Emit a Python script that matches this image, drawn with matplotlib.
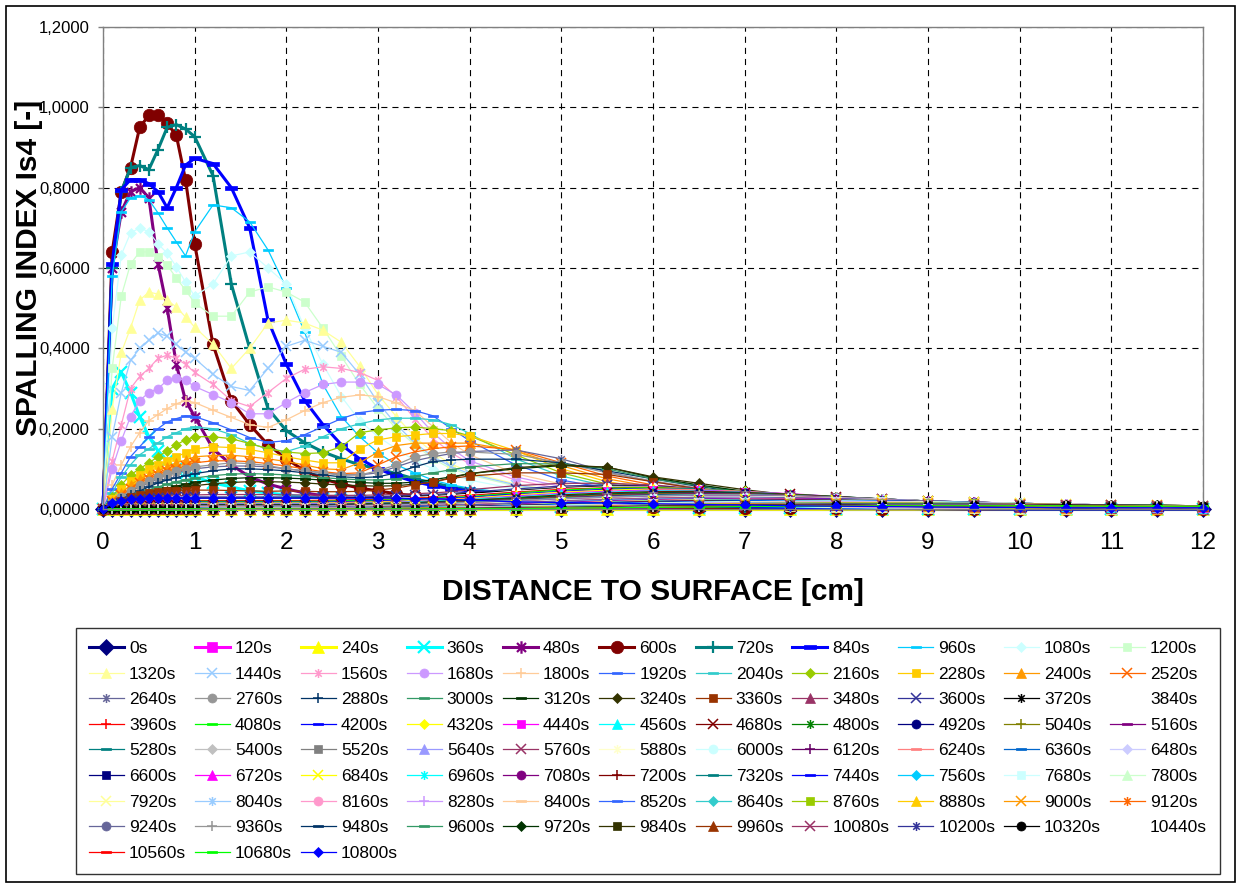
import numpy as np
import matplotlib
matplotlib.use("Agg")
import matplotlib.pyplot as plt
from matplotlib.path import Path
from matplotlib.patches import Rectangle
from matplotlib.ticker import FuncFormatter

plt.rcParams['font.family'] = ['Liberation Sans', 'DejaVu Sans']

W, H = 1237, 883

# depth grid of the curves [cm]
DEPTH_CM = [0, 0.1, 0.2, 0.3, 0.4, 0.5, 0.6, 0.7, 0.8, 0.9, 1.0,
            1.2, 1.4, 1.6, 1.8, 2.0, 2.2, 2.4, 2.6, 2.8, 3.0,
            3.2, 3.4, 3.6, 3.8, 4.0,
            4.5, 5.0, 5.5, 6.0, 6.5, 7.0, 7.5, 8.0, 8.5, 9.0,
            9.5, 10.0, 10.5, 11.0, 11.5, 12.0]

TIMES_S = list(range(0, 10801, 120))

# spalling index Is4, in thousandths, one row per time step
IS4_E3 = [
    [0,0,0,0,0,0,0,0,0,0,0, 0,0,0,0,0,0,0,0,0,0, 0,0,0,0,0, 0,0,0,0,0,0,0,0,0,0, 0,0,0,0,0,0],
    [0,2,2,1,1,1,1,0,0,0,0, 0,0,0,0,0,0,0,0,0,0, 0,0,0,0,0, 0,0,0,0,0,0,0,0,0,0, 0,0,0,0,0,0],
    [0,0,0,0,0,0,0,0,0,0,0, 0,0,0,0,0,0,0,0,0,0, 0,0,0,0,0, 0,0,0,0,0,0,0,0,0,0, 0,0,0,0,0,0],
    [0,300,340,290,230,180,145,120,100,90,80, 65,55,45,40,35,30,25,22,20,18, 15,13,12,10,10, 8,6,5,4,3,2,2,1,1,1, 0,0,0,0,0,0],
    [0,600,740,790,800,775,610,500,360,270,230, 150,110,80,62,50,40,33,28,24,20, 18,15,13,12,10, 8,6,5,4,3,2,2,1,1,1, 0,0,0,0,0,0],
    [0,640,790,850,950,980,980,960,930,820,660, 410,270,210,160,125,95,75,62,52,45, 38,33,28,25,22, 15,11,8,6,4,3,2,2,1,1, 0,0,0,0,0,0],
    [0,600,790,850,855,845,895,950,957,946,927, 830,560,400,250,195,165,142,125,110,100, 88,75,65,55,48, 33,23,16,12,8,6,4,3,2,1, 1,0,0,0,0,0],
    [0,610,795,820,820,810,790,750,800,856,873, 860,800,700,470,360,270,210,160,125,100, 82,68,58,50,45, 33,24,17,12,9,6,4,3,2,1, 1,0,0,0,0,0],
    [0,580,740,775,780,770,737,700,665,630,690, 757,750,715,645,550,440,310,230,180,140, 110,90,72,60,52, 38,27,19,13,9,7,5,3,2,2, 1,1,0,0,0,0],
    [0,450,633,687,700,690,660,637,603,565,530, 560,630,640,600,560,450,360,280,220,180, 150,120,100,85,72, 50,35,24,17,12,9,6,4,3,2, 1,1,0,0,0,0],
    [0,350,530,610,640,640,628,607,575,545,513, 480,480,540,553,540,515,450,380,310,250, 200,160,125,100,85, 57,40,28,20,14,10,7,5,3,2, 2,1,1,0,0,0],
    [0,250,390,450,520,540,535,520,503,478,453, 410,350,400,463,470,463,445,415,355,285, 230,180,140,112,92, 62,43,30,21,15,11,8,5,4,3, 2,1,1,0,0,0],
    [0,180,290,370,400,420,438,430,410,390,375, 335,305,295,350,405,420,405,390,335,265, 210,165,130,105,88, 60,42,30,21,15,11,8,6,4,3, 2,1,1,0,0,0],
    [0,120,210,300,330,350,375,383,375,360,340, 310,270,255,290,325,348,354,350,340,320, 280,225,175,140,112, 72,50,36,26,18,13,9,6,4,3, 2,2,1,1,0,0],
    [0,100,170,230,270,290,300,320,326,320,305, 285,265,237,237,265,290,310,316,316,310, 284,240,190,150,120, 80,56,40,29,21,15,11,8,5,4, 3,2,1,1,0,0],
    [0,60,110,155,190,220,235,250,262,270,265, 246,228,210,203,222,245,265,278,284,280, 264,245,205,165,135, 88,62,45,34,25,18,13,9,6,4, 3,2,1,1,1,0],
    [0,50,90,130,155,180,200,217,225,232,230, 215,197,178,166,170,185,205,225,240,246, 248,245,232,200,170, 110,72,52,40,30,22,16,11,8,5, 4,3,2,1,1,0],
    [0,40,80,110,135,150,165,180,190,200,204, 200,185,163,150,143,157,180,200,212,222, 226,226,222,210,188, 125,82,57,42,32,24,17,12,8,6, 4,3,2,1,1,0],
    [0,30,60,85,100,115,130,145,160,172,180, 180,175,163,150,142,138,140,155,190,197, 202,204,200,195,182, 135,90,62,46,34,25,18,13,9,6, 4,3,2,1,1,0],
    [0,25,50,70,85,100,110,120,130,140,150, 155,153,148,140,130,122,115,115,150,172, 180,184,188,188,182, 145,100,68,50,37,27,19,13,9,7, 5,3,2,1,1,0],
    [0,20,40,60,75,85,95,105,115,122,130, 133,134,130,125,118,110,100,98,115,142, 158,164,164,164,164, 145,108,75,55,41,30,21,15,10,7, 5,4,3,2,1,1],
    [0,20,35,50,65,75,85,95,100,108,115, 120,120,118,113,107,100,93,88,90,110, 130,142,150,155,157, 148,115,82,60,45,33,23,16,11,8, 6,4,3,2,1,1],
    [0,15,30,45,55,65,75,85,90,95,100, 105,107,107,105,100,95,90,85,85,90, 105,120,130,138,143, 147,125,92,68,50,36,26,18,12,9, 6,4,3,2,1,1],
    [0,15,30,45,60,70,80,88,95,100,105, 110,115,113,108,100,95,90,85,85,95, 110,130,138,142,142, 136,115,90,70,52,37,27,19,13,9, 7,5,3,2,1,1],
    [0,10,25,35,45,55,65,72,78,83,88, 95,100,100,98,95,90,85,80,78,80, 90,105,118,122,124, 124,115,95,75,56,41,29,20,14,10, 7,5,3,2,1,1],
    [0,10,20,30,40,48,55,62,68,73,77, 83,87,88,87,85,82,78,75,73,72, 75,82,90,98,105, 113,112,100,75,58,43,31,22,15,11, 8,6,4,3,2,1],
    [0,8,17,25,33,40,46,52,57,62,66, 72,76,78,78,77,75,72,69,66,64, 64,67,73,80,88, 100,108,104,78,60,44,32,23,16,12, 9,6,4,3,2,1],
    [0,7,15,22,29,35,40,45,50,54,58, 63,66,68,68,67,65,62,60,58,57, 58,62,67,78,88, 103,110,104,80,64,48,35,25,17,12, 9,6,4,3,2,1],
    [0,10,20,30,35,40,42,44,45,46,47, 47,46,45,44,45,44,43,43,44,47, 52,60,68,76,82, 90,90,86,68,50,38,28,20,14,10, 7,5,4,3,2,1],
    [0,8,15,20,25,28,30,32,33,34,35, 36,36,36,36,35,35,34,34,34,35, 36,38,40,43,48, 58,64,64,60,50,40,30,22,16,11, 8,6,4,3,2,1],
    [0,8,14,19,22,25,27,28,29,30,30, 30,30,30,30,30,30,30,30,30,31, 32,34,36,39,42, 50,57,60,57,50,41,32,24,17,12, 9,6,4,3,2,1],
    [0,7,13,17,20,23,24,25,26,27,27, 27,27,27,27,27,27,27,27,28,28, 29,31,33,36,39, 46,53,57,56,50,42,33,25,18,13, 9,7,5,3,2,1],
    [0,6,12,15,18,20,22,23,24,24,24, 24,24,24,24,24,24,24,25,25,26, 27,29,31,33,36, 44,51,55,55,50,42,34,26,19,14, 10,7,5,3,2,1],
    [0,6,11,14,16,18,19,20,21,21,21, 21,21,21,21,21,21,22,22,23,24, 25,27,29,31,34, 42,49,53,54,50,43,35,27,20,15, 11,8,5,4,2,1],
    [0,5,9,12,14,16,17,18,18,19,19, 19,19,19,19,19,19,19,20,21,22, 23,25,27,29,31, 40,47,52,53,50,44,36,28,21,16, 12,8,6,4,3,2],
    [0,5,8,11,13,14,15,16,16,17,17, 17,17,17,17,17,17,17,18,19,20, 21,23,25,27,29, 37,44,49,51,49,44,37,29,22,17, 12,9,6,4,3,2],
    [0,4,7,10,11,12,13,14,14,15,15, 15,15,15,15,15,15,15,16,17,18, 19,21,23,25,27, 35,42,47,50,48,44,37,30,23,17, 13,9,7,5,3,2],
    [0,4,7,9,10,11,12,12,13,13,13, 13,13,13,13,13,13,14,14,15,16, 17,19,21,23,25, 32,39,44,47,47,43,38,31,24,18, 14,10,7,5,3,2],
    [0,3,6,8,9,10,11,11,11,12,12, 12,12,12,12,12,12,12,13,14,15, 16,18,20,22,24, 30,37,42,45,45,42,37,31,25,19, 14,10,7,5,4,2],
    [0,3,5,7,8,9,10,10,10,11,11, 11,11,11,11,11,11,11,12,13,14, 15,16,18,20,22, 28,35,40,43,44,41,37,31,25,19, 15,11,8,5,4,2],
    [0,3,5,6,7,8,9,9,9,10,10, 10,10,10,10,10,10,10,11,12,13, 14,15,17,19,21, 27,33,38,41,42,40,36,31,25,20, 15,11,8,6,4,3],
    [0,3,4,6,7,8,8,8,9,9,9, 9,9,9,9,9,9,10,10,11,12, 13,14,16,18,20, 25,31,36,39,40,39,35,30,25,20, 15,11,8,6,4,3],
    [0,2,4,5,6,7,7,8,8,8,8, 8,8,8,8,8,8,9,9,10,11, 12,13,15,17,19, 24,30,35,38,39,38,35,30,25,20, 16,12,9,6,4,3],
    [0,2,4,5,6,6,7,7,7,8,8, 8,8,8,8,8,8,8,9,9,10, 11,12,14,16,18, 23,28,33,36,38,37,34,30,25,20, 16,12,9,6,4,3],
    [0,2,3,4,5,6,6,6,7,7,7, 7,7,7,7,7,7,8,8,9,10, 11,12,13,15,17, 22,27,31,35,36,36,33,29,25,20, 16,12,9,7,5,3],
    [0,2,3,4,5,5,6,6,6,6,7, 7,7,7,7,7,7,7,8,8,9, 10,11,12,14,16, 21,26,30,33,35,35,33,29,25,20, 16,13,10,7,5,3],
    [0,2,3,4,4,5,5,5,6,6,6, 6,6,6,6,6,6,7,7,8,9, 9,10,12,13,15, 20,25,29,32,34,34,32,29,25,20, 16,13,10,7,5,4],
    [0,2,3,3,4,4,5,5,5,5,6, 6,6,6,6,6,6,6,7,7,8, 9,10,11,13,14, 19,24,28,31,33,33,31,28,24,20, 17,13,10,7,5,4],
    [0,1,2,3,4,4,4,5,5,5,5, 5,5,5,5,5,6,6,6,7,8, 8,9,11,12,14, 18,23,27,30,32,32,31,28,24,20, 17,13,10,8,5,4],
    [0,1,2,3,3,4,4,4,4,5,5, 5,5,5,5,5,5,6,6,7,7, 8,9,10,11,13, 17,22,26,29,31,31,30,27,24,20, 17,13,10,8,6,4],
    [0,1,2,3,3,3,4,4,4,4,4, 4,4,4,4,5,5,5,6,6,7, 7,8,9,11,12, 16,21,25,28,30,30,29,27,24,20, 17,14,11,8,6,4],
    [0,1,2,2,3,3,3,4,4,4,4, 4,4,4,4,4,5,5,5,6,6, 7,8,9,10,11, 15,20,24,27,29,29,28,26,23,20, 17,14,11,8,6,4],
    [0,1,2,2,3,3,3,3,3,4,4, 4,4,4,4,4,4,5,5,5,6, 6,7,8,9,11, 14,19,23,26,28,28,27,26,23,20, 17,14,11,9,6,5],
    [0,1,2,2,2,3,3,3,3,3,3, 3,3,3,4,4,4,4,5,5,6, 6,7,8,9,10, 13,18,22,25,27,27,27,25,23,20, 17,14,11,9,7,5],
    [0,1,1,2,2,2,3,3,3,3,3, 3,3,3,3,3,4,4,4,5,5, 6,6,7,8,9, 12,17,21,24,26,27,26,25,23,20, 17,14,12,9,7,5],
    [0,1,1,2,2,2,2,3,3,3,3, 3,3,3,3,3,3,4,4,4,5, 5,6,7,8,9, 12,16,20,23,25,26,26,25,22,20, 17,14,12,9,7,5],
    [0,1,1,2,2,2,2,2,2,3,3, 3,3,3,3,3,3,3,4,4,5, 5,6,6,7,8, 11,15,19,22,24,25,25,24,22,19, 17,14,12,10,7,5],
    [0,1,1,1,2,2,2,2,2,2,2, 2,3,3,3,3,3,3,3,4,4, 5,5,6,7,8, 10,14,18,21,23,24,24,23,22,19, 17,14,12,10,8,6],
    [0,1,1,1,2,2,2,2,2,2,2, 2,2,2,3,3,3,3,3,4,4, 4,5,6,6,7, 10,13,17,20,22,23,23,23,21,19, 17,14,12,10,8,6],
    [0,1,1,1,1,2,2,2,2,2,2, 2,2,2,2,3,3,3,3,3,4, 4,5,5,6,7, 9,12,16,19,21,22,23,22,21,19, 17,14,12,10,8,6],
    [0,1,1,1,1,1,2,2,2,2,2, 2,2,2,2,2,3,3,3,3,4, 4,4,5,5,6, 9,12,15,18,20,21,22,22,20,18, 16,14,12,10,8,6],
    [0,0,1,1,1,1,1,2,2,2,2, 2,2,2,2,2,2,3,3,3,3, 4,4,5,5,6, 8,11,14,17,19,21,21,21,20,18, 16,14,12,10,8,6],
    [0,0,1,1,1,1,1,1,2,2,2, 2,2,2,2,2,2,2,3,3,3, 3,4,4,5,5, 8,10,13,16,18,20,21,21,20,18, 16,14,12,10,8,7],
    [0,0,1,1,1,1,1,1,1,2,2, 2,2,2,2,2,2,2,2,3,3, 3,4,4,5,5, 7,10,13,15,17,19,20,20,19,18, 16,14,12,10,8,7],
    [0,0,1,1,1,1,1,1,1,1,1, 2,2,2,2,2,2,2,2,2,3, 3,3,4,4,5, 7,9,12,15,17,18,19,20,19,18, 16,14,12,10,9,7],
    [0,0,0,1,1,1,1,1,1,1,1, 1,2,2,2,2,2,2,2,2,3, 3,3,4,4,4, 6,9,11,14,16,18,19,19,18,17, 16,14,12,10,9,7],
    [0,0,0,1,1,1,1,1,1,1,1, 1,1,1,2,2,2,2,2,2,2, 3,3,3,4,4, 6,8,11,13,15,17,18,18,18,17, 15,14,12,10,9,7],
    [0,0,0,1,1,1,1,1,1,1,1, 1,1,1,1,2,2,2,2,2,2, 2,3,3,3,4, 5,8,10,13,15,16,17,18,17,16, 15,13,12,10,9,7],
    [0,0,0,0,1,1,1,1,1,1,1, 1,1,1,1,1,2,2,2,2,2, 2,3,3,3,4, 5,7,10,12,14,16,17,17,17,16, 15,13,12,10,9,8],
    [0,0,0,0,1,1,1,1,1,1,1, 1,1,1,1,1,1,2,2,2,2, 2,2,3,3,3, 5,7,9,12,14,15,16,17,16,16, 15,13,12,10,9,8],
    [0,0,0,0,0,1,1,1,1,1,1, 1,1,1,1,1,1,1,2,2,2, 2,2,3,3,3, 4,6,9,11,13,15,16,16,16,15, 14,13,12,10,9,8],
    [0,0,0,0,0,1,1,1,1,1,1, 1,1,1,1,1,1,1,1,2,2, 2,2,2,3,3, 4,6,8,11,13,14,15,16,15,15, 14,13,11,10,9,8],
    [0,0,0,0,0,0,1,1,1,1,1, 1,1,1,1,1,1,1,1,1,2, 2,2,2,3,3, 4,6,8,10,12,14,15,15,15,15, 14,13,11,10,9,8],
    [0,0,0,0,0,0,0,1,1,1,1, 1,1,1,1,1,1,1,1,1,1, 2,2,2,2,3, 4,5,7,10,12,13,14,15,15,14, 14,12,11,10,9,8],
    [0,0,0,0,0,0,0,0,1,1,1, 1,1,1,1,1,1,1,1,1,1, 1,2,2,2,2, 3,5,7,9,11,13,14,14,14,14, 13,12,11,10,9,8],
    [0,0,0,0,0,0,0,0,0,1,1, 1,1,1,1,1,1,1,1,1,1, 1,1,2,2,2, 3,5,7,9,11,12,13,14,14,14, 13,12,11,10,9,8],
    [0,0,0,0,0,0,0,0,0,0,1, 1,1,1,1,1,1,1,1,1,1, 1,1,1,2,2, 3,4,6,8,10,12,13,13,13,13, 13,12,11,10,9,8],
    [0,0,0,0,0,0,0,0,0,0,0, 1,1,1,1,1,1,1,1,1,1, 1,1,1,1,2, 3,4,6,8,10,11,12,13,13,13, 12,12,11,10,9,8],
    [0,0,0,0,0,0,0,0,0,0,0, 0,1,1,1,1,1,1,1,1,1, 1,1,1,1,2, 2,4,6,8,9,11,12,12,12,12, 12,11,11,10,9,8],
    [0,0,0,0,0,0,0,0,0,0,0, 0,0,1,1,1,1,1,1,1,1, 1,1,1,1,1, 2,4,5,7,9,10,11,12,12,12, 12,11,10,10,9,8],
    [0,0,0,0,0,0,0,0,0,0,0, 0,0,0,1,1,1,1,1,1,1, 1,1,1,1,1, 2,3,5,7,9,10,11,11,12,12, 11,11,10,9,9,8],
    [0,0,0,0,0,0,0,0,0,0,0, 0,0,0,0,1,1,1,1,1,1, 1,1,1,1,1, 2,3,5,7,8,9,10,11,11,11, 11,10,10,9,9,8],
    [0,0,0,0,0,0,0,0,0,0,0, 0,0,0,0,0,1,1,1,1,1, 1,1,1,1,1, 2,3,4,6,8,9,10,10,11,11, 11,10,10,9,8,8],
    [0,0,0,0,0,0,0,0,0,0,0, 0,0,0,0,0,0,1,1,1,1, 1,1,1,1,1, 2,3,4,6,7,9,9,10,10,10, 10,10,9,9,8,8],
    [0,0,0,0,0,0,0,0,0,0,0, 0,0,0,0,0,0,0,1,1,1, 1,1,1,1,1, 1,3,4,6,7,8,9,10,10,10, 10,10,9,9,8,8],
    [0,0,0,0,0,0,0,0,0,0,0, 0,0,0,0,0,0,0,0,1,1, 1,1,1,1,1, 1,2,4,5,7,8,9,9,10,10, 10,9,9,9,8,8],
    [0,0,0,0,0,0,0,0,0,0,0, 0,0,0,0,0,0,0,0,0,1, 1,1,1,1,1, 1,2,3,5,6,7,8,9,9,9, 9,9,9,8,8,8],
    [0,0,0,0,0,0,0,0,0,0,0, 0,0,0,0,0,0,0,0,0,0, 1,1,1,1,1, 1,2,3,5,6,7,8,8,9,9, 9,9,8,8,8,7],
    [0,0,0,0,0,0,0,0,0,0,0, 0,0,0,0,0,0,0,0,0,0, 0,1,1,1,1, 1,2,3,4,6,7,7,8,8,8, 8,8,8,8,7,7],
    [0,0,0,0,0,0,0,0,0,0,0, 0,0,0,0,0,0,0,0,0,0, 0,0,1,1,1, 1,2,3,4,5,6,7,7,8,8, 8,8,8,7,7,7],
    [0,15,20,24,26,27,27,27,27,27,27, 27,27,27,27,27,27,27,27,27,27, 27,26,25,24,22, 18,16,15,13,11,10,8,7,6,5, 4,4,3,3,3,3],
]

# Excel 2003 default series colours (cycle of 55)
EXCEL_COLORS = [
    '#000080', '#FF00FF', '#FFFF00', '#00FFFF', '#800080', '#800000', '#008080', '#0000FF',
    '#00CCFF', '#CCFFFF', '#CCFFCC', '#FFFF99', '#99CCFF', '#FF99CC', '#CC99FF', '#FFCC99',
    '#3366FF', '#33CCCC', '#99CC00', '#FFCC00', '#FF9900', '#FF6600', '#666699', '#969696',
    '#003366', '#339966', '#003300', '#333300', '#993300', '#993366', '#333399', '#000000',
    '#FFFFFF', '#FF0000', '#00FF00', '#0000FF', '#FFFF00', '#FF00FF', '#00FFFF', '#800000',
    '#008000', '#000080', '#808000', '#800080', '#008080', '#C0C0C0', '#808080', '#9999FF',
    '#993366', '#FFFFCC', '#CCFFFF', '#660066', '#FF8080', '#0066CC', '#CCCCFF']

STAR = Path([(0, -1), (0, 1), (-0.72, -0.72), (0.72, 0.72), (-0.72, 0.72), (0.72, -0.72)],
            [Path.MOVETO, Path.LINETO] * 3)
DASH = Path([(-1, -0.3), (1, -0.3), (1, 0.3), (-1, 0.3), (-1, -0.3)], closed=True)
LDASH = Path([(-1, -0.2), (1, -0.2), (1, 0.2), (-1, 0.2), (-1, -0.2)], closed=True)
MARKERS = ['D', 's', '^', 'x', 'star', 'o', '+', 'dash', 'ldash']
MARKER_OBJ = {'star': STAR, 'dash': DASH, 'ldash': LDASH}

for row in IS4_E3:
    assert len(row) == len(DEPTH_CM), len(row)

fig = plt.figure(figsize=(W / 100, H / 100), dpi=100)
ax = fig.add_axes([103 / W, 1 - 509 / H, 1100 / W, 482 / H])

for i, (t, vals) in enumerate(zip(TIMES_S, IS4_E3)):
    col = EXCEL_COLORS[i % 55]
    mname = MARKERS[i % 9]
    mk = MARKER_OBJ.get(mname, mname)
    big = i < 8
    lw = 2.2 if big else 0.9
    ms = 9.0 if big else 6.5
    if mname in ('D', 's'):
        ms *= 0.85
    if mname in ('dash', 'ldash'):
        ms = 8.0 if big else 6.5
    open_mk = mname in ('x', '+', 'star')
    y = np.array(vals) / 1000.0
    ax.plot(DEPTH_CM, y, color=col, lw=lw, marker=mk, ms=ms,
            mfc='none' if open_mk else col, mec=col,
            mew=(1.6 if big else 1.1) if open_mk else 0.5,
            label=f'{t}s', clip_on=False)

ax.set_xlim(0, 12)
ax.set_ylim(0, 1.2)
ax.set_xticks(range(13))
ax.set_yticks(np.arange(0, 1.21, 0.2))
ax.yaxis.set_major_formatter(FuncFormatter(lambda v, p: f'{v:.4f}'.replace('.', ',')))
ax.tick_params(axis='x', labelsize=17.5, length=3.6, width=1, color='#404040', pad=13)
ax.tick_params(axis='y', labelsize=12, length=3.6, width=1, color='#808080', pad=6)
ax.set_axisbelow(True)
ax.grid(True, color='black', linestyle=(0, (5.5, 4.5)), linewidth=0.8)
for sp in ax.spines.values():
    sp.set_color('#808080')
    sp.set_linewidth(1.0)

fig.text(29 / W, 1 - 268 / H, 'SPALLING INDEX Is4 [-]', rotation=90,
         ha='center', va='center', fontsize=21.5, fontweight='bold')
fig.text(653 / W, 1 - 592 / H, 'DISTANCE TO SURFACE [cm]',
         ha='center', va='center', fontsize=21.5, fontweight='bold')

handles, labels = ax.get_legend_handles_labels()
order = [i for c in range(11) for i in range(c, len(handles), 11)]
leg = fig.legend([handles[i] for i in order], [labels[i] for i in order],
                 ncol=11, loc='upper left',
                 bbox_to_anchor=(76 / W, 3 / H, 1144 / W, 252 / H),
                 mode='expand', borderaxespad=0, fontsize=12.5,
                 handlelength=2.0, handletextpad=0.3, labelspacing=0.6,
                 borderpad=0.75, frameon=True, fancybox=False)
leg.get_frame().set_edgecolor('black')
leg.get_frame().set_linewidth(1.0)

fig.patches.append(Rectangle((6 / W, 1 / H), 1229 / W, 876 / H, transform=fig.transFigure,
                             fill=False, edgecolor='black', linewidth=1.2))

fig.savefig('out.png', dpi=100)
